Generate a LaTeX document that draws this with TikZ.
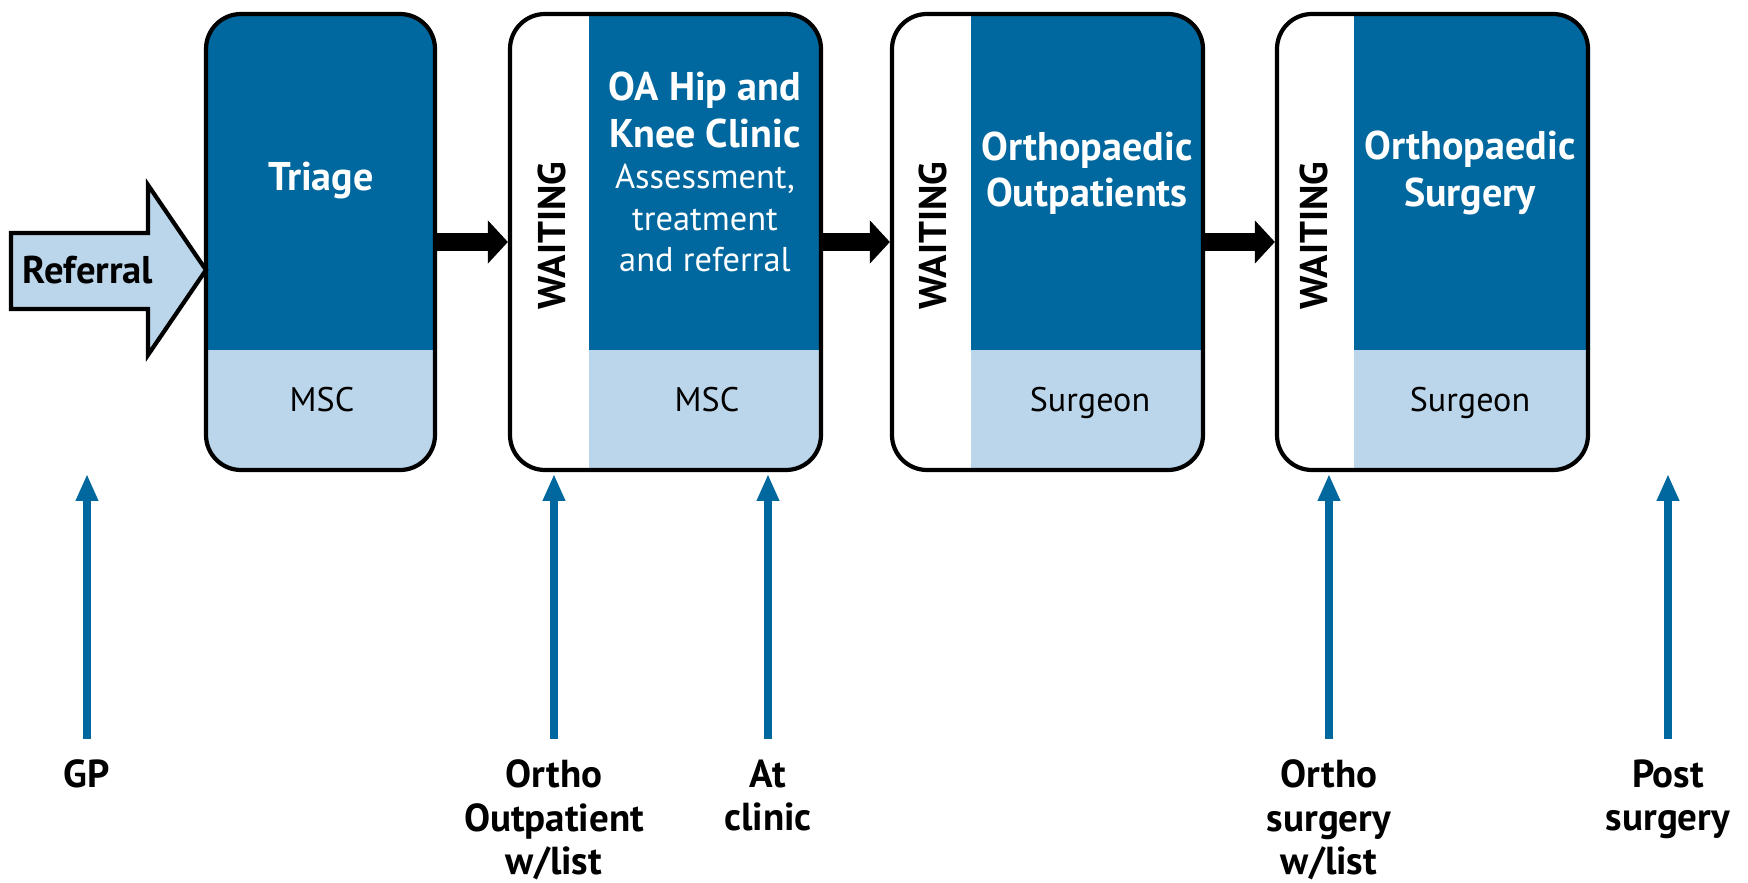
\documentclass[tikz,border=0pt]{standalone}
\usepackage{fontspec}
\setmainfont{PT Sans}
\usetikzlibrary{arrows.meta}
\definecolor{deepblue}{RGB}{0,104,158}
\definecolor{paleblue}{RGB}{187,214,234}
\begin{document}
\begin{tikzpicture}[
 stagebox/.style={draw,line width=1.2pt,rounded corners=0.35cm,minimum height=4.56cm,inner sep=0pt,
  path picture={
   \fill[paleblue,sharp corners] ([xshift=#1]path picture bounding box.south west) rectangle ([yshift=1.2cm]path picture bounding box.south east);
   \fill[deepblue,sharp corners] ([xshift=#1,yshift=1.2cm]path picture bounding box.south west) rectangle (path picture bounding box.north east);}},
 head/.style={text=white,align=center,font=\bfseries\fontsize{11.4}{13.2}\selectfont},
 note/.style={text=white,align=center,font=\fontsize{9.8}{11.9}\selectfont},
 staff/.style={anchor=base,font=\fontsize{9.7}{11}\selectfont},
 wait/.style={rotate=90,font=\bfseries\fontsize{11}{13}\selectfont},
 flow/.style={line width=0.18cm,-{Triangle[width=0.42cm,length=0.2cm]}},
 feed/.style={deepblue,line width=0.08cm,-{Triangle[width=0.21cm,length=0.27cm]}},
 src/.style={anchor=north,align=center,inner sep=0.2cm,font=\bfseries\fontsize{11.1}{12.4}\selectfont}]
\useasboundingbox (0,0) rectangle (17.48,8.83);
% stages
\node[stagebox=0pt,minimum width=2.29cm] (triage) at (3.205,6.41) {};
\node[stagebox=0.79cm,minimum width=3.11cm] (clinic) at (6.655,6.41) {};
\node[stagebox=0.79cm,minimum width=3.11cm] (outpat) at (10.475,6.41) {};
\node[stagebox=0.77cm,minimum width=3.11cm] (surg) at (14.325,6.41) {};
\draw[flow] (triage.east) -- (clinic.west);
\draw[flow] (clinic.east) -- (outpat.west);
\draw[flow] (outpat.east) -- (surg.west);
% referral arrow
\draw[line width=1.2pt,fill=paleblue] (0.11,5.74) -- (1.48,5.74) -- (1.48,5.28) -- (2.06,6.13)
 -- (1.48,6.98) -- (1.48,6.50) -- (0.11,6.50) -- cycle;
\node[font=\bfseries\fontsize{11}{13}\selectfont] (referral) at (0.88,6.13) {Referral};
% texts in the boxes
\node[head,anchor=base] (triagetxt) at (3.21,6.92) {Triage};
\node[head] (clinictxt) at (7.05,7.73) {OA Hip and\\Knee Clinic};
\node[note] (clinicnote) at (7.05,6.65) {Assessment,\\treatment\\and referral};
\node[head] (outpattxt) at (10.87,7.10) {Orthopaedic\\Outpatients};
\node[head] (surgtxt) at (14.70,7.10) {Orthopaedic\\Surgery};
\node[staff] (msc1) at (3.22,4.71) {MSC};
\node[staff] (msc2) at (7.07,4.71) {MSC};
\node[staff] (surgeon1) at (10.90,4.71) {Surgeon};
\node[staff] (surgeon2) at (14.70,4.71) {Surgeon};
\node[wait] (wait1) at (5.52,6.47) {WAITING};
\node[wait] (wait2) at (9.33,6.47) {WAITING};
\node[wait] (wait3) at (13.14,6.47) {WAITING};
% entry points
\node[src] (gp) at (0.87,1.44) {GP};
\node[src] (orthoout) at (5.54,1.44) {Ortho\\Outpatient\\w/list};
\node[src] (atclinic) at (7.68,1.44) {At\\clinic};
\node[src] (orthosurg) at (13.29,1.44) {Ortho\\surgery\\w/list};
\node[src] (post) at (16.68,1.44) {Post\\surgery};
\coordinate (gptip) at (0.87,4.09);
\coordinate (orthoouttip) at (5.54,4.09);
\coordinate (atclinictip) at (7.68,4.09);
\coordinate (orthosurgtip) at (13.29,4.09);
\coordinate (posttip) at (16.68,4.09);
\draw[feed] (gp) -- (gptip);
\draw[feed] (orthoout) -- (orthoouttip);
\draw[feed] (atclinic) -- (atclinictip);
\draw[feed] (orthosurg) -- (orthosurgtip);
\draw[feed] (post) -- (posttip);
\end{tikzpicture}
\end{document}
